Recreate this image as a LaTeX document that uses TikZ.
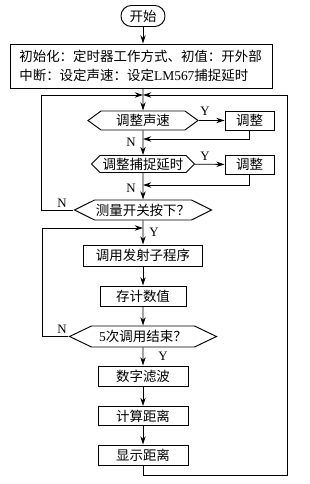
\documentclass[tikz,border=0pt]{standalone}
\usepackage{fontspec}
\setmainfont{Liberation Serif}
\newfontfamily\cjk{Noto Sans CJK SC}
\usetikzlibrary{arrows.meta,shapes.symbols,calc}

\def\pxu{0.03cm}
\tikzset{
  flowbox/.style={draw, rectangle, line width=0.8pt, inner sep=0pt,
    font=\cjk\fontsize{11.5}{14}\selectfont},
  hexbox/.style={draw, signal, signal to=west and east, line width=0.8pt,
    inner sep=0pt, font=\cjk\fontsize{11.5}{14}\selectfont},
  flow/.style={line width=0.7pt, -{Stealth[length=7pt,width=4.5pt]}},
  plain/.style={line width=0.7pt},
  yn/.style={inner sep=0pt, font=\fontsize{11}{12}\selectfont}
}

\begin{document}
\begin{tikzpicture}[x=0.03cm,y=-0.03cm]
  \useasboundingbox (0,0) rectangle (309,484);

  % main column
  \node[flowbox, rounded corners=0.31cm, minimum width=44*\pxu, minimum height=21*\pxu] (start) at (143,16) {开始};
  \node[flowbox, text width=7.3cm, align=left, inner xsep=0.28cm, minimum height=44*\pxu,
    font=\cjk\fontsize{11.5}{16}\selectfont] (init) at (141,66)
    {初始化：定时器工作方式、初值：开外部\\中断：设定声速：设定{\rmfamily LM567}捕捉延时};
  \node[hexbox, signal pointer angle=72, minimum width=110*\pxu, minimum height=19*\pxu] (speed) at (143,120.5) {调整声速};
  \node[flowbox, minimum width=49*\pxu, minimum height=19*\pxu] (adjA) at (249.5,120.5) {调整};
  \node[hexbox, signal pointer angle=90, minimum width=103*\pxu, minimum height=17*\pxu] (delay) at (143,164) {调整捕捉延时};
  \node[flowbox, minimum width=49*\pxu, minimum height=19*\pxu] (adjB) at (249.5,164.5) {调整};
  \node[hexbox, signal pointer angle=53, minimum width=137*\pxu, minimum height=20*\pxu] (switch) at (143,210) {测量开关按下？};
  \node[flowbox, minimum width=119*\pxu, minimum height=21*\pxu] (emit) at (143,255.5) {调用发射子程序};
  \node[flowbox, minimum width=86*\pxu, minimum height=20*\pxu] (store) at (143,296) {存计数值};
  \node[hexbox, signal pointer angle=51, minimum width=147*\pxu, minimum height=21*\pxu] (five) at (143,336.5) {{\rmfamily 5}次调用结束？};
  \node[flowbox, minimum width=90*\pxu, minimum height=20*\pxu] (filter) at (143,376) {数字滤波};
  \node[flowbox, minimum width=90*\pxu, minimum height=19*\pxu] (calc) at (143,416) {计算距离};
  \node[flowbox, minimum width=90*\pxu, minimum height=20*\pxu] (show) at (143,455) {显示距离};

  % corner points
  \coordinate (top) at (143,95);
  \coordinate (loopL) at (41,95);
  \coordinate (inner) at (143,228);
  \coordinate (innerL) at (42,228);
  \coordinate (retA) at (143,139);
  \coordinate (retB) at (143,185);
  \coordinate (loopR) at (287,475);

  % labels
  \node[yn] (ya) at (205,111) {Y};
  \node[yn] (na) at (131,142) {N};
  \node[yn] (yb) at (205,156) {Y};
  \node[yn] (nb) at (131,188) {N};
  \node[yn] (nc) at (62,203) {N};
  \node[yn] (yc) at (154,232) {Y};
  \node[yn] (nd) at (62,329) {N};
  \node[yn] (yd) at (163,356) {Y};

  % arrows
  \draw[flow] (start) -- (start |- init.north);
  \draw[flow] (start |- init.south) -- (speed);
  \draw[flow] (speed) -- (adjA);
  \draw[flow] (speed) -- (delay);
  \draw[flow] (adjA) |- (retA);
  \draw[flow] (delay) -- (adjB);
  \draw[flow] (delay) -- (switch);
  \draw[flow] (adjB) |- (retB);
  \draw[flow] (switch.west) -| (loopL) -- (top);
  \draw[flow] (switch) -- (emit);
  \draw[flow] (innerL) -- (inner);
  \draw[flow] (emit) -- (store);
  \draw[flow] (store) -- (five);
  \draw[plain] (five.west) -| (innerL);
  \draw[flow] (five) -- (filter);
  \draw[flow] (filter) -- (calc);
  \draw[flow] (calc) -- (show);
  \draw[flow] (show) |- (loopR) |- (top);
\end{tikzpicture}
\end{document}
